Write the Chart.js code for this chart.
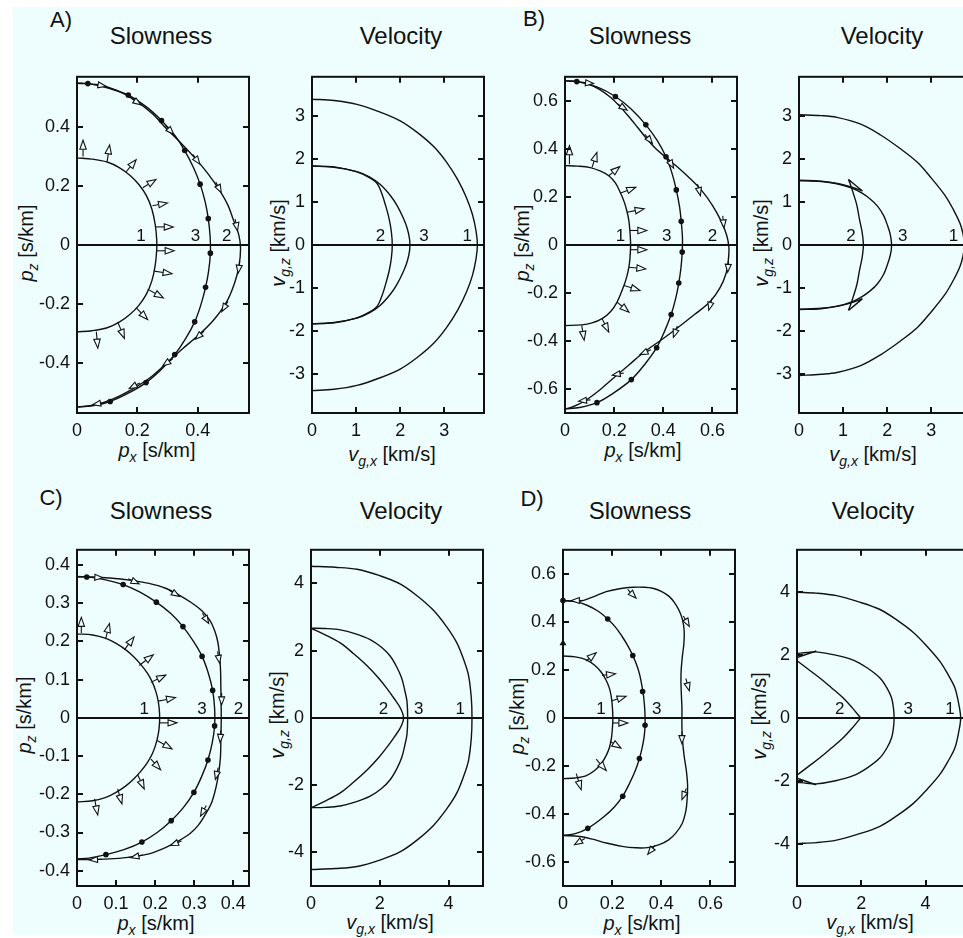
<!DOCTYPE html>
<html>
<head>
<meta charset="utf-8">
<script src="https://cdn.jsdelivr.net/npm/chart.js@4.4.1/dist/chart.umd.min.js"></script>
<style>
html, body { margin: 0; padding: 0; background: #fff; overflow: hidden; }
#fig { position: relative; width: 963px; height: 938px; overflow: hidden; }
#bg { position: absolute; left: 13px; top: 7px; width: 950px; height: 928px; background: #eefefe; }
canvas { position: absolute; }
.t { position: absolute; font-family: "Liberation Sans", Arial, Helvetica, sans-serif; color: #111;
     white-space: nowrap; transform: translate(-50%, -50%); line-height: 1; }
.ttl { font-size: 24px; }
.let { font-size: 22px; }
.ax { font-size: 20px; }
.ax sub { font-size: 14px; vertical-align: -5px; line-height: 0; }
.rot { transform: translate(-50%, -50%) rotate(-90deg); }
</style>
</head>
<body>
<div id="fig">
  <div id="bg"></div>

  <div class="t let" style="left:61px;top:20px">A)</div>
  <div class="t let" style="left:534px;top:19px">B)</div>
  <div class="t let" style="left:51px;top:498px">C)</div>
  <div class="t let" style="left:532px;top:499px">D)</div>

  <div class="t ttl" style="left:161px;top:36px">Slowness</div>
  <div class="t ttl" style="left:401px;top:36px">Velocity</div>
  <div class="t ttl" style="left:640px;top:36px">Slowness</div>
  <div class="t ttl" style="left:882px;top:36px">Velocity</div>
  <div class="t ttl" style="left:161px;top:511px">Slowness</div>
  <div class="t ttl" style="left:401px;top:511px">Velocity</div>
  <div class="t ttl" style="left:640px;top:511px">Slowness</div>
  <div class="t ttl" style="left:873px;top:511px">Velocity</div>

  <div class="t ax" style="left:157px;top:450px"><i>p</i><sub><i>x</i></sub> [s/km]</div>
  <div class="t ax" style="left:392px;top:454px"><i>v</i><sub><i>g,x</i></sub> [km/s]</div>
  <div class="t ax" style="left:643px;top:450px"><i>p</i><sub><i>x</i></sub> [s/km]</div>
  <div class="t ax" style="left:873px;top:454px"><i>v</i><sub><i>g,x</i></sub> [km/s]</div>
  <div class="t ax" style="left:156px;top:923px"><i>p</i><sub><i>x</i></sub> [s/km]</div>
  <div class="t ax" style="left:390px;top:922px"><i>v</i><sub><i>g,x</i></sub> [km/s]</div>
  <div class="t ax" style="left:642px;top:923px"><i>p</i><sub><i>x</i></sub> [s/km]</div>
  <div class="t ax" style="left:870px;top:922px"><i>v</i><sub><i>g,x</i></sub> [km/s]</div>

  <div class="t ax rot" style="left:26px;top:243px"><i>p</i><sub><i>z</i></sub> [s/km]</div>
  <div class="t ax rot" style="left:278px;top:243px"><i>v</i><sub><i>g,z</i></sub> [km/s]</div>
  <div class="t ax rot" style="left:522px;top:243px"><i>p</i><sub><i>z</i></sub> [s/km]</div>
  <div class="t ax rot" style="left:761px;top:243px"><i>v</i><sub><i>g,z</i></sub> [km/s]</div>
  <div class="t ax rot" style="left:24px;top:715px"><i>p</i><sub><i>z</i></sub> [s/km]</div>
  <div class="t ax rot" style="left:277px;top:715px"><i>v</i><sub><i>g,z</i></sub> [km/s]</div>
  <div class="t ax rot" style="left:517px;top:716px"><i>p</i><sub><i>z</i></sub> [s/km]</div>
  <div class="t ax rot" style="left:759px;top:716px"><i>v</i><sub><i>g,z</i></sub> [km/s]</div>
</div>

<script>
// ---------- A) ----------
const aSlowXTicks = [0, 0.2, 0.4];
const aSlowYTicks = [-0.4, -0.2, 0, 0.2, 0.4];
const aSlow1 = [[0,0.295],[0.05,0.291],[0.1,0.281],[0.14,0.262],[0.175,0.236],[0.205,0.205],[0.23,0.167],
  [0.248,0.122],[0.259,0.07],[0.264,0.02],[0.264,-0.02],[0.259,-0.07],[0.248,-0.122],[0.23,-0.167],
  [0.205,-0.205],[0.175,-0.236],[0.14,-0.262],[0.1,-0.281],[0.05,-0.291],[0,-0.295]];
const aSlow3 = [[0,0.548],[0.036,0.547],[0.1,0.533],[0.17,0.508],[0.23,0.468],[0.28,0.422],[0.325,0.37],
  [0.357,0.32],[0.387,0.26],[0.408,0.206],[0.425,0.145],[0.435,0.089],[0.441,0.03],[0.442,-0.028],
  [0.436,-0.09],[0.426,-0.144],[0.41,-0.205],[0.39,-0.261],[0.36,-0.318],[0.324,-0.372],[0.28,-0.422],
  [0.229,-0.467],[0.17,-0.503],[0.11,-0.531],[0.05,-0.546],[0,-0.55]];
const aSlow3Dots = [[0.036,0.547],[0.17,0.508],[0.28,0.422],[0.357,0.32],[0.408,0.206],[0.435,0.089],
  [0.442,-0.028],[0.426,-0.144],[0.39,-0.261],[0.324,-0.372],[0.229,-0.467],[0.11,-0.531]];
const aSlow2 = [[0,0.548],[0.07,0.543],[0.13,0.525],[0.19,0.492],[0.25,0.445],[0.3,0.39],[0.345,0.345],
  [0.395,0.29],[0.435,0.24],[0.47,0.189],[0.5,0.135],[0.52,0.08],[0.536,0.035],[0.542,-0.01],
  [0.537,-0.07],[0.522,-0.13],[0.495,-0.195],[0.455,-0.252],[0.405,-0.304],[0.35,-0.352],[0.3,-0.398],
  [0.245,-0.448],[0.185,-0.488],[0.12,-0.522],[0.06,-0.542],[0,-0.55]];
const aSlowArrows1 = [[0.02,0.3,0.02,0.355],[0.1,0.283,0.108,0.339],[0.163,0.248,0.196,0.289],
  [0.218,0.194,0.262,0.222],[0.25,0.133,0.3,0.142],[0.26,0.061,0.319,0.061],[0.264,-0.02,0.322,-0.02],
  [0.256,-0.089,0.315,-0.098],[0.234,-0.15,0.286,-0.18],[0.196,-0.213,0.234,-0.253],
  [0.135,-0.261,0.157,-0.317],[0.064,-0.294,0.069,-0.35]];
const aSlowArrows2 = [[0.072,0.542,0.096,0.538],[0.19,0.49,0.212,0.475],[0.3,0.397,0.32,0.375],
  [0.39,0.298,0.407,0.274],[0.465,0.203,0.478,0.177],[0.526,0.078,0.532,0.048],[0.538,-0.066,0.534,-0.096],
  [0.495,-0.2,0.48,-0.226],[0.413,-0.3,0.392,-0.32],[0.305,-0.395,0.284,-0.41],[0.197,-0.474,0.173,-0.487],
  [0.077,-0.537,0.052,-0.542]];
const aSlowLabels = [['1',0.212],['3',0.393],['2',0.496]];

const aVelXTicks = [0, 1, 2, 3];
const aVelYTicks = [-3, -2, -1, 0, 1, 2, 3];
const aVel1 = [[0,3.38],[0.5,3.35],[1.02,3.26],[1.5,3.1],[2.0,2.88],[2.4,2.6],[2.77,2.27],[3.05,1.92],
  [3.3,1.52],[3.5,1.1],[3.64,0.7],[3.72,0.32],[3.75,0],[3.72,-0.32],[3.64,-0.7],[3.5,-1.1],[3.3,-1.52],
  [3.05,-1.92],[2.77,-2.27],[2.4,-2.6],[2.0,-2.88],[1.5,-3.1],[1.02,-3.26],[0.5,-3.35],[0,-3.38]];
const aVel3 = [[0,1.83],[0.5,1.8],[1.02,1.7],[1.3,1.58],[1.55,1.4],[1.78,1.14],[1.93,0.91],[2.08,0.6],
  [2.16,0.38],[2.21,0.15],[2.22,0],[2.21,-0.15],[2.16,-0.38],[2.08,-0.6],[1.93,-0.91],[1.78,-1.14],
  [1.55,-1.4],[1.3,-1.58],[1.02,-1.7],[0.5,-1.8],[0,-1.83]];
const aVel2 = [[0,1.83],[0.5,1.81],[1.0,1.7],[1.3,1.56],[1.48,1.42],[1.58,1.2],[1.67,0.91],[1.75,0.6],
  [1.8,0.3],[1.82,0],[1.8,-0.3],[1.75,-0.6],[1.67,-0.91],[1.58,-1.2],[1.48,-1.42],[1.3,-1.56],
  [1.0,-1.7],[0.5,-1.81],[0,-1.83]];
const aVelLabels = [['2',1.55],['3',2.54],['1',3.52]];

// ---------- B) ----------
const bSlowXTicks = [0, 0.2, 0.4, 0.6];
const bSlowYTicks = [-0.6, -0.4, -0.2, 0, 0.2, 0.4, 0.6];
const bSlow1 = [[0,0.33],[0.05,0.328],[0.103,0.322],[0.145,0.307],[0.178,0.288],[0.205,0.258],[0.226,0.216],
  [0.242,0.176],[0.253,0.136],[0.26,0.1],[0.264,0.06],[0.267,0],[0.264,-0.06],[0.26,-0.093],[0.252,-0.13],
  [0.24,-0.169],[0.212,-0.238],[0.185,-0.278],[0.151,-0.307],[0.11,-0.325],[0.068,-0.333],[0,-0.336]];
const bSlow3 = [[0,0.683],[0.048,0.68],[0.13,0.658],[0.205,0.618],[0.27,0.565],[0.329,0.5],[0.375,0.435],
  [0.411,0.367],[0.435,0.3],[0.453,0.229],[0.466,0.16],[0.473,0.098],[0.478,0.03],[0.477,-0.03],
  [0.472,-0.095],[0.463,-0.159],[0.45,-0.225],[0.432,-0.29],[0.405,-0.36],[0.373,-0.428],[0.325,-0.497],
  [0.27,-0.561],[0.2,-0.615],[0.13,-0.657],[0.06,-0.677],[0,-0.683]];
const bSlow3Dots = [[0.048,0.68],[0.205,0.618],[0.329,0.5],[0.411,0.367],[0.453,0.229],[0.473,0.098],
  [0.477,-0.03],[0.463,-0.159],[0.432,-0.29],[0.373,-0.428],[0.27,-0.561],[0.13,-0.657]];
const bSlow2 = [[0,0.683],[0.05,0.68],[0.089,0.672],[0.14,0.648],[0.185,0.615],[0.22,0.58],[0.255,0.54],
  [0.295,0.49],[0.33,0.445],[0.37,0.4],[0.41,0.365],[0.459,0.323],[0.51,0.275],[0.555,0.228],[0.6,0.165],
  [0.635,0.1],[0.658,0.04],[0.667,-0.01],[0.665,-0.06],[0.655,-0.12],[0.63,-0.18],[0.589,-0.238],
  [0.527,-0.29],[0.452,-0.35],[0.39,-0.397],[0.322,-0.446],[0.26,-0.5],[0.2,-0.552],[0.14,-0.605],
  [0.08,-0.65],[0.03,-0.675],[0,-0.683]];
const bSlowArrows1 = [[0.018,0.336,0.018,0.413],[0.11,0.323,0.13,0.385],[0.178,0.288,0.223,0.326],
  [0.226,0.216,0.288,0.24],[0.253,0.136,0.322,0.15],[0.264,0.06,0.333,0.06],[0.264,-0.02,0.333,-0.02],
  [0.26,-0.093,0.329,-0.1],[0.24,-0.169,0.305,-0.19],[0.212,-0.238,0.26,-0.28],
  [0.151,-0.307,0.178,-0.363],[0.068,-0.335,0.078,-0.397]];
const bSlowArrows2 = [[0.075,0.676,0.116,0.672],[0.226,0.579,0.253,0.561],[0.336,0.447,0.356,0.422],
  [0.425,0.35,0.442,0.32],[0.541,0.247,0.551,0.205],[0.644,0.101,0.647,0.071],[0.664,-0.086,0.662,-0.114],
  [0.594,-0.238,0.585,-0.272],[0.452,-0.353,0.441,-0.385],[0.329,-0.446,0.305,-0.457],
  [0.226,-0.536,0.192,-0.543],[0.089,-0.647,0.055,-0.651]];
const bSlowLabels = [['1',0.226],['3',0.414],['2',0.6]];

const bVelXTicks = [0, 1, 2, 3];
const bVelYTicks = [-3, -2, -1, 0, 1, 2, 3];
const bVel1 = [[0,3.02],[0.5,3.0],[0.86,2.96],[1.4,2.8],[1.85,2.55],[2.3,2.23],[2.69,1.91],[3.0,1.55],
  [3.31,1.15],[3.5,0.82],[3.65,0.5],[3.72,0.25],[3.75,0],[3.72,-0.25],[3.65,-0.5],[3.5,-0.82],[3.31,-1.15],
  [3.0,-1.55],[2.69,-1.91],[2.3,-2.23],[1.85,-2.55],[1.4,-2.8],[0.86,-2.96],[0.5,-3.0],[0,-3.03]];
const bVel3 = [[0,1.49],[0.5,1.47],[0.86,1.42],[1.2,1.32],[1.43,1.2],[1.62,1.06],[1.78,0.9],[1.92,0.68],
  [2.0,0.47],[2.07,0.24],[2.1,0],[2.07,-0.24],[2.0,-0.47],[1.92,-0.68],[1.78,-0.9],[1.62,-1.06],
  [1.43,-1.2],[1.2,-1.32],[0.86,-1.42],[0.5,-1.47],[0,-1.49]];
const bVel2 = [[0,1.5],[0.5,1.48],[0.9,1.42],[1.2,1.34],[1.44,1.25],null,[1.44,1.25],[1.12,1.52],null,
  [1.12,1.52],[1.17,1.39],[1.23,1.2],[1.31,0.93],[1.37,0.6],[1.43,0.3],[1.46,0],[1.43,-0.3],[1.37,-0.6],
  [1.31,-0.93],[1.23,-1.2],[1.17,-1.39],[1.12,-1.52],null,[1.12,-1.52],[1.44,-1.25],null,[1.44,-1.25],
  [1.2,-1.34],[0.9,-1.42],[0.5,-1.48],[0,-1.5]];
const bVelLabels = [['2',1.18],['3',2.35],['1',3.5]];

// ---------- C) ----------
const cSlowXTicks = [0, 0.1, 0.2, 0.3, 0.4];
const cSlowYTicks = [-0.4, -0.3, -0.2, -0.1, 0, 0.1, 0.2, 0.3, 0.4];
const cSlow1 = [[0,0.22],[0.04,0.217],[0.074,0.208],[0.1,0.195],[0.125,0.178],[0.145,0.16],[0.163,0.14],
  [0.18,0.117],[0.193,0.093],[0.202,0.068],[0.208,0.042],[0.211,0.015],[0.211,-0.015],[0.208,-0.042],
  [0.202,-0.068],[0.193,-0.093],[0.18,-0.117],[0.163,-0.14],[0.145,-0.16],[0.125,-0.178],[0.1,-0.195],
  [0.074,-0.208],[0.04,-0.217],[0,-0.22]];
const cSlow3 = [[0,0.369],[0.025,0.369],[0.07,0.362],[0.118,0.349],[0.16,0.33],[0.203,0.303],[0.24,0.273],
  [0.271,0.239],[0.298,0.2],[0.32,0.161],[0.336,0.117],[0.347,0.072],[0.352,0.025],[0.352,-0.021],
  [0.346,-0.065],[0.335,-0.11],[0.319,-0.153],[0.299,-0.195],[0.272,-0.235],[0.241,-0.269],[0.205,-0.3],
  [0.166,-0.325],[0.12,-0.345],[0.074,-0.358],[0.03,-0.367],[0,-0.369]];
const cSlow3Dots = [[0.025,0.369],[0.118,0.349],[0.203,0.303],[0.271,0.239],[0.32,0.161],[0.347,0.072],
  [0.352,-0.021],[0.335,-0.11],[0.299,-0.195],[0.241,-0.269],[0.166,-0.325],[0.074,-0.358]];
const cSlow2 = [[0,0.37],[0.083,0.366],[0.14,0.36],[0.184,0.352],[0.225,0.34],[0.26,0.322],[0.292,0.302],
  [0.32,0.28],[0.34,0.255],[0.352,0.229],[0.36,0.2],[0.364,0.169],[0.367,0.13],[0.368,0.08],[0.369,0],
  [0.368,-0.06],[0.367,-0.102],[0.363,-0.14],[0.356,-0.18],[0.345,-0.22],[0.33,-0.25],[0.311,-0.28],
  [0.29,-0.302],[0.26,-0.322],[0.225,-0.34],[0.184,-0.356],[0.13,-0.365],[0.083,-0.369],[0,-0.371]];
const cSlowArrows1 = [[0.011,0.222,0.011,0.263],[0.073,0.206,0.083,0.247],[0.121,0.178,0.146,0.212],
  [0.159,0.137,0.195,0.165],[0.189,0.093,0.227,0.112],[0.208,0.044,0.252,0.053],[0.212,-0.013,0.256,-0.013],
  [0.205,-0.059,0.243,-0.081],[0.189,-0.108,0.214,-0.136],[0.155,-0.148,0.172,-0.186],
  [0.104,-0.186,0.115,-0.225],[0.045,-0.212,0.053,-0.254]];
const cSlowArrows2 = [[0.048,0.368,0.066,0.367],[0.142,0.359,0.159,0.351],[0.244,0.329,0.262,0.318],
  [0.328,0.262,0.337,0.247],[0.362,0.16,0.365,0.143],[0.37,0.051,0.37,0.034],[0.367,-0.047,0.366,-0.064],
  [0.358,-0.144,0.354,-0.161],[0.324,-0.242,0.316,-0.257],[0.256,-0.327,0.239,-0.334],
  [0.155,-0.362,0.138,-0.366],[0.049,-0.371,0.032,-0.372]];
const cSlowLabels = [['1',0.172],['3',0.32],['2',0.413]];

const cVelXTicks = [0, 2, 4];
const cVelYTicks = [-4, -2, 0, 2, 4];
const cVel1 = [[0,4.51],[0.7,4.48],[1.34,4.42],[2.0,4.23],[2.6,3.98],[3.1,3.62],[3.56,3.2],[3.95,2.7],
  [4.24,2.23],[4.45,1.7],[4.58,1.26],[4.66,0.6],[4.68,0],[4.66,-0.6],[4.58,-1.26],[4.45,-1.7],[4.24,-2.23],
  [3.95,-2.7],[3.56,-3.2],[3.1,-3.62],[2.6,-3.98],[2.0,-4.23],[1.34,-4.42],[0.7,-4.48],[0,-4.51]];
const cVel3 = [[0,2.67],[0.4,2.66],[0.85,2.62],[1.3,2.5],[1.72,2.33],[2.05,2.1],[2.3,1.84],[2.5,1.5],
  [2.64,1.17],[2.73,0.8],[2.79,0.49],[2.81,0],[2.79,-0.49],[2.73,-0.8],[2.64,-1.17],[2.5,-1.5],[2.3,-1.84],
  [2.05,-2.1],[1.72,-2.33],[1.3,-2.5],[0.85,-2.62],[0.4,-2.66],[0,-2.67]];
const cVel2 = [[0,2.67],[0.4,2.48],[0.85,2.23],[1.25,1.9],[1.63,1.55],[1.95,1.2],[2.21,0.87],[2.42,0.57],
  [2.6,0.29],[2.69,0],[2.6,-0.29],[2.42,-0.57],[2.21,-0.87],[1.95,-1.2],[1.63,-1.55],[1.25,-1.9],
  [0.85,-2.23],[0.4,-2.48],[0,-2.67]];
const cVelLabels = [['2',2.11],['3',3.13],['1',4.34]];

// ---------- D) ----------
const dSlowXTicks = [0, 0.2, 0.4, 0.6];
const dSlowYTicks = [-0.6, -0.4, -0.2, 0, 0.2, 0.4, 0.6];
const dSlow1 = [[0,0.258],[0.05,0.254],[0.095,0.242],[0.13,0.218],[0.155,0.191],[0.175,0.158],[0.189,0.123],
  [0.197,0.085],[0.201,0.045],[0.203,0],[0.201,-0.045],[0.197,-0.085],[0.189,-0.123],[0.175,-0.158],
  [0.155,-0.191],[0.13,-0.218],[0.095,-0.24],[0.05,-0.25],[0,-0.253]];
const dSlow3 = [[0,0.489],[0.05,0.484],[0.1,0.468],[0.145,0.443],[0.182,0.412],[0.215,0.376],[0.24,0.34],
  [0.264,0.3],[0.284,0.26],[0.3,0.22],[0.312,0.18],[0.321,0.135],[0.328,0.09],[0.333,0.03],[0.334,-0.031],
  [0.33,-0.08],[0.322,-0.125],[0.311,-0.169],[0.296,-0.215],[0.272,-0.27],[0.243,-0.326],[0.21,-0.37],
  [0.165,-0.413],[0.101,-0.46],[0.05,-0.482],[0,-0.49]];
const dSlow3Dots = [[0,0.489],[0.182,0.412],[0.284,0.26],[0.324,0.11],[0.334,-0.031],[0.311,-0.169],
  [0.243,-0.326],[0.101,-0.46]];
const dSlowTri = [[0,0.311]];
const dSlow2 = [[0,0.489],[0.068,0.486],[0.12,0.503],[0.176,0.526],[0.23,0.538],[0.284,0.544],[0.33,0.544],
  [0.365,0.54],[0.4,0.527],[0.432,0.506],[0.455,0.478],[0.473,0.446],[0.486,0.41],[0.493,0.365],
  [0.492,0.31],[0.486,0.258],[0.481,0.2],[0.48,0.15],[0.482,0.09],[0.484,0.043],[0.484,-0.038],
  [0.487,-0.1],[0.493,-0.158],[0.502,-0.22],[0.507,-0.279],[0.505,-0.34],[0.5,-0.387],[0.485,-0.44],
  [0.459,-0.48],[0.43,-0.508],[0.392,-0.528],[0.345,-0.54],[0.297,-0.541],[0.24,-0.535],[0.176,-0.521],
  [0.12,-0.505],[0.068,-0.494],[0,-0.49]];
const dSlowArrows1 = [[0.095,0.238,0.135,0.271],[0.159,0.177,0.214,0.184],[0.196,0.07,0.257,0.09],
  [0.203,-0.021,0.264,-0.021],[0.192,-0.098,0.236,-0.126],[0.135,-0.172,0.176,-0.219],
  [0.054,-0.232,0.074,-0.299]];
const dSlowArrows2 = [[0.074,0.489,0.034,0.489],[0.264,0.534,0.297,0.499],[0.493,0.419,0.514,0.381],
  [0.5,0.164,0.514,0.113],[0.484,-0.078,0.484,-0.107],[0.497,-0.306,0.484,-0.34],
  [0.372,-0.534,0.345,-0.568],[0.081,-0.507,0.047,-0.528]];
const dSlowLabels = [['1',0.155],['3',0.381],['2',0.588]];

const dVelXTicks = [0, 2, 4];
const dVelYTicks = [-4, -2, 0, 2, 4];
const dVel1 = [[0,4.0],[0.6,3.97],[1.23,3.89],[1.9,3.7],[2.58,3.45],[3.1,3.12],[3.62,2.72],[4.05,2.27],
  [4.45,1.79],[4.72,1.34],[4.91,0.96],[5.02,0.5],[5.09,0],[5.02,-0.5],[4.91,-0.96],[4.72,-1.34],
  [4.45,-1.79],[4.05,-2.27],[3.62,-2.72],[3.1,-3.12],[2.58,-3.45],[1.9,-3.7],[1.23,-3.89],[0.6,-3.97],
  [0,-4.0]];
const dVel3 = [[0,2.05],[0.3,2.08],[0.6,2.1],[1.2,2.0],[1.75,1.84],[2.2,1.58],[2.58,1.27],[2.8,0.95],
  [2.94,0.64],[3.0,0.32],[3.02,0],[3.0,-0.32],[2.94,-0.64],[2.8,-0.95],[2.58,-1.27],[2.2,-1.58],
  [1.75,-1.84],[1.2,-2.0],[0.6,-2.1],[0.3,-2.08],[0,-2.05]];
const dVel2 = [[0,1.82],[0.35,1.55],[0.71,1.27],[1.07,0.96],[1.43,0.64],[1.72,0.32],[1.98,0],null,
  [1.98,0],[1.72,-0.32],[1.43,-0.64],[1.07,-0.96],[0.71,-1.27],[0.35,-1.55],[0,-1.82],null,
  [0,1.92],[0.6,2.13],null,[0,-1.92],[0.6,-2.13]];
const dVelLabels = [['2',1.33],['3',3.46],['1',4.76]];

// ---------- drawing ----------
const FONT = '"Liberation Sans", Arial, Helvetica, sans-serif';
const INK = '#111';
const BG = '#eefefe';
Chart.defaults.font.family = FONT;
Chart.defaults.color = INK;

const xy = arr => arr.map(p => p ? { x: p[0], y: p[1] } : { x: null, y: null });

function lineSet(arr) {
  return { data: xy(arr), showLine: true, borderColor: INK, borderWidth: 1.4, pointRadius: 0,
           tension: 0.35, fill: false, order: 2 };
}
function dotSet(arr, style) {
  return { data: xy(arr), showLine: false, pointRadius: style ? 4 : 2.8, pointStyle: style || 'circle',
           backgroundColor: INK, borderColor: INK, borderWidth: 0, order: 1, clip: false };
}

function drawArrow(ctx, x0, y0, x1, y1, hl, hw) {
  const ang = Math.atan2(y1 - y0, x1 - x0);
  const c = Math.cos(ang), s = Math.sin(ang);
  const dist = Math.max(Math.hypot(x1 - x0, y1 - y0), hl + 4);
  const sx = x1 - dist * c, sy = y1 - dist * s;
  const bx = x1 - hl * c, by = y1 - hl * s;
  ctx.beginPath(); ctx.moveTo(sx, sy); ctx.lineTo(bx, by); ctx.stroke();
  ctx.beginPath();
  ctx.moveTo(x1, y1);
  ctx.lineTo(bx + hw * s, by - hw * c);
  ctx.lineTo(bx - hw * s, by + hw * c);
  ctx.closePath();
  ctx.fillStyle = BG; ctx.fill(); ctx.stroke();
}

const decor = {
  id: 'decor',
  afterDatasetsDraw(chart, args, opts) {
    const { ctx, chartArea: a, scales: { x, y } } = chart;
    ctx.save();
    ctx.strokeStyle = INK;
    // axis line at zero
    const y0 = y.getPixelForValue(0);
    ctx.lineWidth = 2;
    ctx.beginPath(); ctx.moveTo(a.left, y0); ctx.lineTo(a.right, y0); ctx.stroke();
    // group velocity arrows
    ctx.lineWidth = 1.1;
    (opts.arrows1 || []).forEach(r => drawArrow(ctx, x.getPixelForValue(r[0]), y.getPixelForValue(r[1]),
      x.getPixelForValue(r[2]), y.getPixelForValue(r[3]), 9, 3.2));
    (opts.arrows2 || []).forEach(r => drawArrow(ctx, x.getPixelForValue(r[0]), y.getPixelForValue(r[1]),
      x.getPixelForValue(r[2]), y.getPixelForValue(r[3]), 8, 3));
    // curve numbers
    ctx.fillStyle = INK;
    ctx.font = '17px ' + FONT;
    ctx.textAlign = 'center';
    ctx.textBaseline = 'alphabetic';
    (opts.labels || []).forEach(l => ctx.fillText(l[0], x.getPixelForValue(l[1]), y0 - 4));
    // frame with inward ticks on all sides
    ctx.lineWidth = 2;
    ctx.strokeRect(a.left, a.top, a.right - a.left, a.bottom - a.top);
    const tl = 6;
    ctx.beginPath();
    x.ticks.forEach(t => {
      const px = Math.round(x.getPixelForValue(t.value));
      ctx.moveTo(px, a.bottom); ctx.lineTo(px, a.bottom - tl);
      ctx.moveTo(px, a.top); ctx.lineTo(px, a.top + tl);
    });
    y.ticks.forEach(t => {
      const py = Math.round(y.getPixelForValue(t.value));
      ctx.moveTo(a.left, py); ctx.lineTo(a.left + tl, py);
      ctx.moveTo(a.right, py); ctx.lineTo(a.right - tl, py);
    });
    ctx.stroke();
    ctx.restore();
  }
};

const fig = document.getElementById('fig');
const BOX_W = 172, BOX_H = 344, LEFT_W = 60, BOT_H = 40, PAD_T = 10, PAD_R = 14;

function makePanel(left, top, range, xTicks, yTicks, datasets, extras) {
  const cv = document.createElement('canvas');
  cv.width = LEFT_W + BOX_W + PAD_R;
  cv.height = PAD_T + BOX_H + BOT_H;
  cv.style.left = (left - LEFT_W) + 'px';
  cv.style.top = (top - PAD_T) + 'px';
  fig.appendChild(cv);
  return new Chart(cv, {
    type: 'scatter',
    data: { datasets: datasets },
    options: {
      responsive: false,
      animation: false,
      events: [],
      layout: { padding: { top: PAD_T, right: PAD_R, left: 0, bottom: 0 } },
      plugins: { legend: { display: false }, tooltip: { enabled: false }, decor: extras },
      scales: {
        x: {
          type: 'linear', min: 0, max: range,
          grid: { display: false, drawTicks: false }, border: { display: false },
          ticks: { padding: 7, font: { size: 18 }, color: INK, maxRotation: 0, autoSkip: false,
                   callback: v => String(v) },
          afterBuildTicks: s => { s.ticks = xTicks.map(v => ({ value: v })); },
          afterFit: s => { s.height = BOT_H; }
        },
        y: {
          type: 'linear', min: -range, max: range,
          grid: { display: false, drawTicks: false }, border: { display: false },
          ticks: { padding: 7, font: { size: 18 }, color: INK, autoSkip: false,
                   callback: v => String(v) },
          afterBuildTicks: s => { s.ticks = yTicks.map(v => ({ value: v })); },
          afterFit: s => { s.width = LEFT_W; }
        }
      }
    },
    plugins: [decor]
  });
}

// A
makePanel(77, 69, 0.57, aSlowXTicks, aSlowYTicks,
  [dotSet(aSlow3Dots), lineSet(aSlow1), lineSet(aSlow3), lineSet(aSlow2)],
  { arrows1: aSlowArrows1, arrows2: aSlowArrows2, labels: aSlowLabels });
makePanel(312, 69, 3.9, aVelXTicks, aVelYTicks,
  [lineSet(aVel1), lineSet(aVel3), lineSet(aVel2)],
  { labels: aVelLabels });
// B
makePanel(565, 69, 0.7, bSlowXTicks, bSlowYTicks,
  [dotSet(bSlow3Dots), lineSet(bSlow1), lineSet(bSlow3), lineSet(bSlow2)],
  { arrows1: bSlowArrows1, arrows2: bSlowArrows2, labels: bSlowLabels });
makePanel(799, 69, 3.9, bVelXTicks, bVelYTicks,
  [lineSet(bVel1), lineSet(bVel3), lineSet(bVel2)],
  { labels: bVelLabels });
// C
makePanel(77, 542, 0.44, cSlowXTicks, cSlowYTicks,
  [dotSet(cSlow3Dots), lineSet(cSlow1), lineSet(cSlow3), lineSet(cSlow2)],
  { arrows1: cSlowArrows1, arrows2: cSlowArrows2, labels: cSlowLabels });
makePanel(311, 542, 5.0, cVelXTicks, cVelYTicks,
  [lineSet(cVel1), lineSet(cVel3), lineSet(cVel2)],
  { labels: cVelLabels });
// D
makePanel(563, 542, 0.7, dSlowXTicks, dSlowYTicks,
  [dotSet(dSlow3Dots), dotSet(dSlowTri, 'triangle'), lineSet(dSlow1), lineSet(dSlow3), lineSet(dSlow2)],
  { arrows1: dSlowArrows1, arrows2: dSlowArrows2, labels: dSlowLabels });
makePanel(797, 542, 5.35, dVelXTicks, dVelYTicks,
  [lineSet(dVel1), lineSet(dVel3), lineSet(dVel2)],
  { labels: dVelLabels });
</script>
</body>
</html>
